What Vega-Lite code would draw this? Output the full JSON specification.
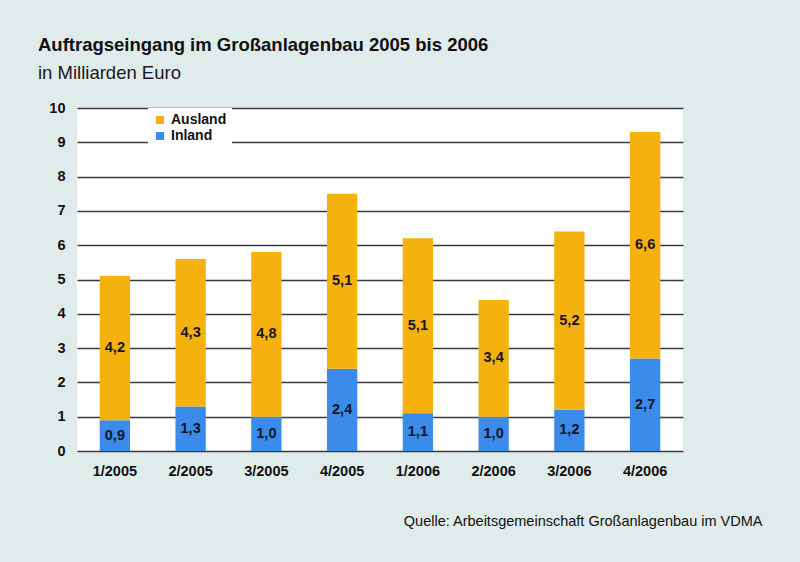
{
  "$schema": "https://vega.github.io/schema/vega-lite/v6.json",
  "width": 606,
  "height": 343,
  "autosize": {"type": "none"},
  "padding": {"left": 77, "top": 108, "right": 117, "bottom": 111},
  "background": "#e0ebeb",
  "title": {
    "text": "Auftragseingang im Großanlagenbau 2005 bis 2006",
    "subtitle": "in Milliarden Euro",
    "anchor": "start",
    "frame": "group",
    "dx": -39,
    "offset": 18,
    "font": "Liberation Sans",
    "fontSize": 18.5,
    "fontWeight": "bold",
    "color": "#111111",
    "subtitleFont": "Liberation Sans",
    "subtitleFontSize": 18.5,
    "subtitleColor": "#1a1a1a",
    "subtitlePadding": 9
  },
  "data": {
    "values": [
      {"quartal": "1/2005", "typ": "Inland", "wert": 0.9},
      {"quartal": "1/2005", "typ": "Ausland", "wert": 4.2},
      {"quartal": "2/2005", "typ": "Inland", "wert": 1.3},
      {"quartal": "2/2005", "typ": "Ausland", "wert": 4.3},
      {"quartal": "3/2005", "typ": "Inland", "wert": 1.0},
      {"quartal": "3/2005", "typ": "Ausland", "wert": 4.8},
      {"quartal": "4/2005", "typ": "Inland", "wert": 2.4},
      {"quartal": "4/2005", "typ": "Ausland", "wert": 5.1},
      {"quartal": "1/2006", "typ": "Inland", "wert": 1.1},
      {"quartal": "1/2006", "typ": "Ausland", "wert": 5.1},
      {"quartal": "2/2006", "typ": "Inland", "wert": 1.0},
      {"quartal": "2/2006", "typ": "Ausland", "wert": 3.4},
      {"quartal": "3/2006", "typ": "Inland", "wert": 1.2},
      {"quartal": "3/2006", "typ": "Ausland", "wert": 5.2},
      {"quartal": "4/2006", "typ": "Inland", "wert": 2.7},
      {"quartal": "4/2006", "typ": "Ausland", "wert": 6.6}
    ]
  },
  "transform": [
    {
      "stack": "wert",
      "groupby": ["quartal"],
      "sort": [{"field": "typ", "order": "descending"}],
      "as": ["wert_start", "wert_end"]
    },
    {"calculate": "(datum.wert_start + datum.wert_end) / 2", "as": "wert_mitte"}
  ],
  "encoding": {
    "x": {
      "field": "quartal",
      "type": "nominal",
      "sort": null,
      "scale": {"paddingInner": 0.6, "paddingOuter": 0.3},
      "axis": {
        "title": "Quelle: Arbeitsgemeinschaft Großanlagenbau im VDMA",
        "titleX": 685,
        "titleY": 74,
        "titleAlign": "right",
        "titleAnchor": null,
        "titleBaseline": "alphabetic",
        "titleFont": "Liberation Sans",
        "titleFontSize": 14.5,
        "titleFontWeight": "normal",
        "titleColor": "#111111",
        "labelAngle": 0,
        "labelFont": "Liberation Sans",
        "labelFontSize": 14.5,
        "labelFontWeight": "bold",
        "labelColor": "#111111",
        "labelPadding": 13,
        "ticks": false,
        "domain": false,
        "grid": false
      }
    }
  },
  "layer": [
    {
      "mark": {"type": "bar"},
      "encoding": {
        "y": {
          "field": "wert_start",
          "type": "quantitative",
          "scale": {"domain": [0, 10]},
          "axis": {
            "title": null,
            "values": [0, 1, 2, 3, 4, 5, 6, 7, 8, 9, 10],
            "format": "d",
            "labelFont": "Liberation Sans",
            "labelFontSize": 14.5,
            "labelFontWeight": "bold",
            "labelColor": "#111111",
            "labelPadding": 12,
            "labelOverlap": false,
            "ticks": false,
            "domain": false,
            "grid": true,
            "gridColor": "#3a3a3a",
            "gridWidth": 1.5,
            "gridOpacity": 1,
            "zindex": 0
          }
        },
        "y2": {"field": "wert_end"},
        "color": {
          "field": "typ",
          "type": "nominal",
          "scale": {"domain": ["Ausland", "Inland"], "range": ["#f5b10d", "#3a8bea"]},
          "legend": {
            "title": null,
            "orient": "none",
            "legendX": 71,
            "legendY": 0,
            "padding": 5,
            "fillColor": "#ffffff",
            "symbolType": "square",
            "symbolSize": 64,
            "symbolStrokeWidth": 0,
            "labelFont": "Liberation Sans",
            "labelFontSize": 14,
            "labelFontWeight": "bold",
            "labelColor": "#111111",
            "labelOffset": 4,
            "rowPadding": 2
          }
        }
      }
    },
    {
      "mark": {
        "type": "text",
        "font": "Liberation Sans",
        "fontSize": 14.5,
        "fontWeight": "bold",
        "color": "#121628",
        "baseline": "middle"
      },
      "encoding": {
        "y": {
          "field": "wert_mitte",
          "type": "quantitative",
          "axis": {
            "title": null,
            "values": [0, 1, 2, 3, 4, 5, 6, 7, 8, 9, 10],
            "format": "d",
            "labelFont": "Liberation Sans",
            "labelFontSize": 14.5,
            "labelFontWeight": "bold",
            "labelColor": "#111111",
            "labelPadding": 12,
            "labelOverlap": false,
            "ticks": false,
            "domain": false,
            "grid": true,
            "gridColor": "#3a3a3a",
            "gridWidth": 1.5,
            "gridOpacity": 1,
            "zindex": 0
          }
        },
        "text": {"field": "wert", "type": "quantitative", "format": ".1f"}
      }
    }
  ],
  "config": {
    "locale": {
      "number": {"decimal": ",", "thousands": ".", "grouping": [3], "currency": ["", " €"]}
    },
    "view": {"fill": "#ffffff", "stroke": null}
  }
}
